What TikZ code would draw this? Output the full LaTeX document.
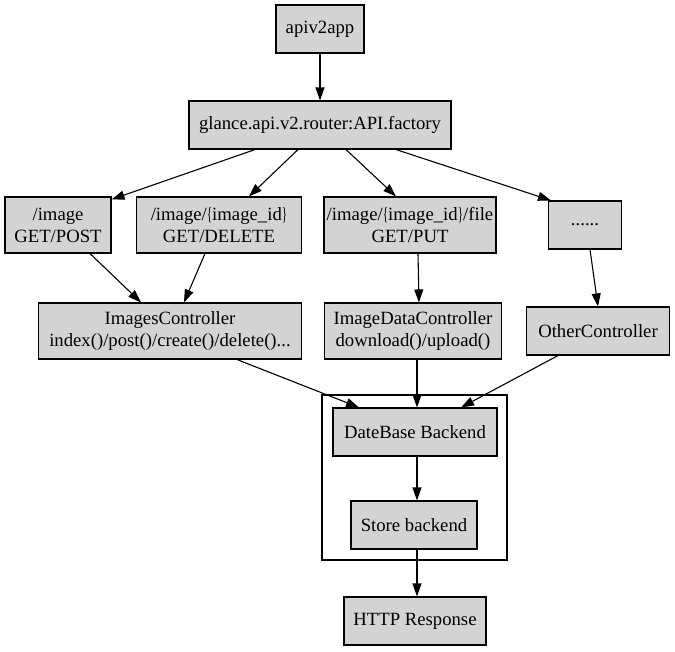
\documentclass[tikz,border=0pt]{standalone}
\usepackage{fontspec}
\usepackage{graphicx}
\setmainfont{Liberation Serif}
\usetikzlibrary{arrows.meta}
\definecolor{nodegray}{HTML}{D3D3D3}
\newcommand{\lbr}{\scalebox{0.6}[1]{\{}}
\newcommand{\rbr}{\scalebox{0.6}[1]{\}}}
\tikzset{
  box/.style={draw, fill=nodegray, line width=1.1pt, inner sep=0pt, align=center,
              minimum height=48pt, font=\fontsize{18.7}{22}\selectfont},
  tall/.style={minimum height=56pt},
  edge/.style={-{Triangle[length=13pt,width=9pt]}, line width=1.1pt}
}
\begin{document}
\begin{tikzpicture}[x=1pt, y=-1pt]
				\useasboundingbox (0,0) rectangle (675,651);
				% 1. top
				\node[box, minimum width=88pt] (app) at (320,29) {apiv2app};
				\node[box, minimum width=262pt] (factory) at (320,125) {glance.api.v2.router:API.factory};
				
				% 2. routes
				\node[box, tall, minimum width=106pt] (img) at (58,225) {/image\\GET/POST};
				\node[box, tall, minimum width=165pt] (imgid) at (219,225) {/image/\lbr image\_id\rbr\\GET/DELETE};
				\node[box, tall, minimum width=172pt] (imgfile) at (410,225) {/image/\lbr image\_id\rbr/file\\GET/PUT};
				\node[box, minimum width=73pt] (dots) at (585,225) {......};
				
				% 3. controllers
				\node[box, tall, minimum width=263pt] (imgctl) at (170,331) {ImagesController\\index()/post()/create()/delete()...};
				\node[box, tall, minimum width=177pt] (datactl) at (413,331) {ImageDataController\\download()/upload()};
				\node[box, minimum width=143pt] (otherctl) at (598,331) {OtherController};
				
				% 4. backends (cluster)
				\draw[line width=1.1pt] (322,395) rectangle (507,560);
				\node[box, minimum width=164pt] (db) at (415,432) {DateBase Backend};
				\node[box, minimum width=126pt] (store) at (414,525) {Store backend};
				\node[box, minimum width=142pt] (http) at (415,621) {HTTP Response};
				
				% 5. edges
				\draw[edge] (app) -- (factory);
				\draw[edge] ([xshift=-65pt]factory.south) -- ([yshift=-3pt]img.north east);
				\draw[edge] ([xshift=-22pt]factory.south) -- ([xshift=30pt]imgid.north);
				\draw[edge] ([xshift=26pt]factory.south) -- ([xshift=-14pt]imgfile.north);
				\draw[edge] ([xshift=76pt]factory.south) -- ([xshift=3pt]dots.north west);
				\draw[edge] ([xshift=32pt]img.south) -- ([xshift=-29pt]imgctl.north);
				\draw[edge] ([xshift=-14pt]imgid.south) -- ([xshift=14pt]imgctl.north);
				\draw[edge] ([xshift=8pt]imgfile.south) -- ([xshift=6pt]datactl.north);
				\draw[edge] ([xshift=5pt]dots.south) -- (otherctl.north);
				\draw[edge] ([xshift=67pt]imgctl.south) -- ([xshift=-56pt]db.north);
				\draw[edge] ([xshift=4pt]datactl.south) -- ([xshift=2pt]db.north);
				\draw[edge] ([xshift=-40pt]otherctl.south) -- ([xshift=46pt]db.north);
				\draw[edge] ([xshift=2pt]db.south) -- ([xshift=3pt]store.north);
				\draw[edge] ([xshift=3pt]store.south) -- ([xshift=2pt]http.north);
			\end{tikzpicture}
\end{document}
